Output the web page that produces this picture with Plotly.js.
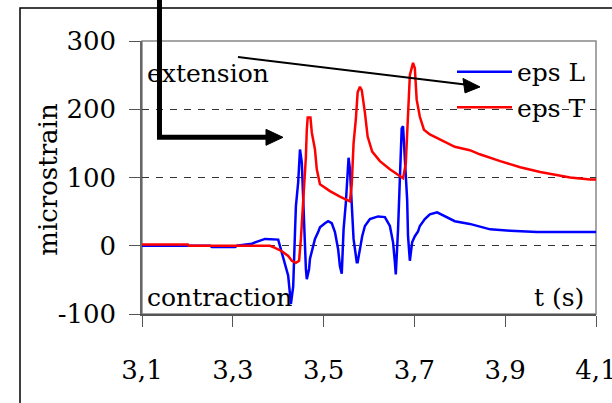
<!DOCTYPE html>
<html>
<head>
<meta charset="utf-8">
<script src="https://cdn.plot.ly/plotly-3.0.1.min.js"></script>
<style>
html,body{margin:0;padding:0;background:#fff;}
#chart{width:612px;height:403px;}
</style>
</head>
<body>
<div id="chart"></div>
<script>
// ---- data ----
var tL = [3.100,3.250,3.254,3.305,3.309,3.342,3.349,3.371,3.400,3.404,3.413,3.422,3.428,3.433,3.437,3.439,3.444,3.446,3.448,3.452,3.455,3.457,3.459,3.461,3.463,3.468,3.470,3.474,3.481,3.488,3.492,3.503,3.510,3.518,3.525,3.532,3.536,3.540,3.544,3.549,3.553,3.555,3.558,3.562,3.566,3.573,3.575,3.580,3.585,3.591,3.602,3.620,3.635,3.646,3.653,3.657,3.659,3.664,3.668,3.672,3.675,3.679,3.684,3.686,3.688,3.690,3.695,3.701,3.708,3.712,3.723,3.734,3.750,3.767,3.789,3.822,3.867,3.911,3.970,4.100];
var epsL = [0,0,-2,-2,0,3,5,10,9,0,-20,-44,-85,-60,20,58,93,126,141,122,68,20,-5,-34,-49,-34,-19,-8,10,20,27,33,36,33,20,-5,-30,-41,24,63,116,129,112,54,10,-24,-24,-5,14,29,39,43,42,29,5,-24,-42,24,112,172,175,126,68,14,-15,-22,5,14,21,29,39,46,49,43,36,32,24,22,20,20];

var tT = [3.100,3.201,3.203,3.382,3.393,3.408,3.422,3.430,3.439,3.446,3.450,3.455,3.459,3.461,3.463,3.465,3.471,3.474,3.481,3.485,3.492,3.503,3.514,3.536,3.558,3.562,3.566,3.571,3.575,3.580,3.584,3.591,3.597,3.607,3.624,3.646,3.668,3.675,3.681,3.686,3.690,3.697,3.701,3.705,3.712,3.721,3.734,3.756,3.789,3.822,3.844,3.889,3.933,3.977,4.043,4.087,4.100];
var epsT = [2,2,0,0,-3,-8,-15,-22,-25,-22,10,60,110,130,170,188,188,166,141,112,90,85,80,72,65,90,150,185,225,233,228,195,160,138,124,112,102,99,120,190,250,268,260,214,189,170,163,156,145,140,134,124,115,108,100,97,97];

var seriesNames = ["eps L", "eps T"];
var xTickVals = [3.1,3.3,3.5,3.7,3.9,4.1];
var xTickText = ["3,1","3,3","3,5","3,7","3,9","4,1"];
var yTickVals = [-100,0,100,200,300];
var yTickText = ["-100","0","100","200","300"];

// ---- layout helpers (pixel -> paper) ----
var L = 142, R = 16, T = 41, B = 88.5, W = 612, H = 403;
var pw = W - L - R, ph = H - T - B;
function X(px){ return (px - L) / pw; }
function Y(py){ return (H - B - py) / ph; }
function P(pts){ return pts.map(function(p,i){ return (i? 'L':'M') + X(p[0]).toFixed(4) + ',' + Y(p[1]).toFixed(4); }).join(' '); }

var FAM = 'DejaVu Serif';
function F(sz){ return {family: FAM, size: sz, color: '#000'}; }

var traces = [
  {x: tL, y: epsL, name: seriesNames[0], legendgroup: 'a', type: 'scatter', mode: 'lines', line: {color: '#0000FF', width: 2.5}},
  {x: tT, y: epsT, name: seriesNames[1], legendgroup: 'b', type: 'scatter', mode: 'lines', line: {color: '#FF0000', width: 2.5}}
];

var layout = {
  width: W, height: H,
  margin: {l: L, r: R, t: T, b: B, pad: 0},
  paper_bgcolor: '#fff', plot_bgcolor: '#fff',
  font: F(25),
  showlegend: true,
  legend: {x: X(452), y: Y(49), xanchor: 'left', yanchor: 'top', bgcolor: 'rgba(0,0,0,0)',
           font: F(25), itemwidth: 55, tracegroupgap: 0},
  xaxis: {range: [3.1, 4.1], tickmode: 'array', tickvals: xTickVals, ticktext: xTickText,
          ticks: 'outside', ticklen: 11, tickwidth: 1, tickcolor: '#555',
          showline: true, linecolor: '#555', linewidth: 1.5, showgrid: false, zeroline: false,
          ticklabeloverflow: 'allow', ticklabelstandoff: 21, tickfont: F(26)},
  yaxis: {range: [-100, 300], tickmode: 'array', tickvals: yTickVals, ticktext: yTickText,
          ticks: 'outside', ticklen: 11, tickwidth: 1, tickcolor: '#555',
          showline: true, linecolor: '#666', linewidth: 1.5,
          showgrid: true, gridcolor: '#333', gridwidth: 1, griddash: '7px,7px', zeroline: false,
          ticklabelstandoff: 8, tickfont: F(26)},
  shapes: [
    {type: 'rect', xref: 'paper', yref: 'paper', x0: 0, x1: 1, y0: 0, y1: 1, layer: 'below',
     line: {color: '#888', width: 1.5}},
    {type: 'rect', xref: 'paper', yref: 'paper', x0: X(20), x1: X(720), y0: Y(520), y1: Y(8),
     line: {color: '#000', width: 1.5}},
    {type: 'path', xref: 'paper', yref: 'paper', path: P([[159.5,-5],[159.5,137.5],[268,137.5]]),
     line: {color: '#000', width: 5}},
    {type: 'path', xref: 'paper', yref: 'paper', path: P([[266,129.5],[283,137.5],[266,145.5]]) + ' Z',
     fillcolor: '#000', line: {color: '#000', width: 1}},
    {type: 'path', xref: 'paper', yref: 'paper', path: P([[238,57],[465,84.5]]),
     line: {color: '#000', width: 2}},
    {type: 'path', xref: 'paper', yref: 'paper', path: P([[463,78.5],[480,87],[465,93]]) + ' Z',
     fillcolor: '#000', line: {color: '#000', width: 1}}
  ],
  annotations: [
    {text: 'microstrain', xref: 'paper', yref: 'paper', x: X(48), y: Y(180), xanchor: 'center', yanchor: 'middle',
     textangle: -90, showarrow: false, font: F(26)},
    {text: 'extension', xref: 'paper', yref: 'paper', x: X(145), y: Y(74), xanchor: 'left', yanchor: 'middle',
     showarrow: false, font: F(25)},
    {text: 'contraction', xref: 'paper', yref: 'paper', x: X(145), y: Y(298), xanchor: 'left', yanchor: 'middle',
     showarrow: false, font: F(25)},
    {text: 't (s)', xref: 'paper', yref: 'paper', x: X(586), y: Y(298), xanchor: 'right', yanchor: 'middle',
     showarrow: false, font: F(25)}
  ]
};

Plotly.newPlot('chart', traces, layout, {displayModeBar: false});
</script>
</body>
</html>
